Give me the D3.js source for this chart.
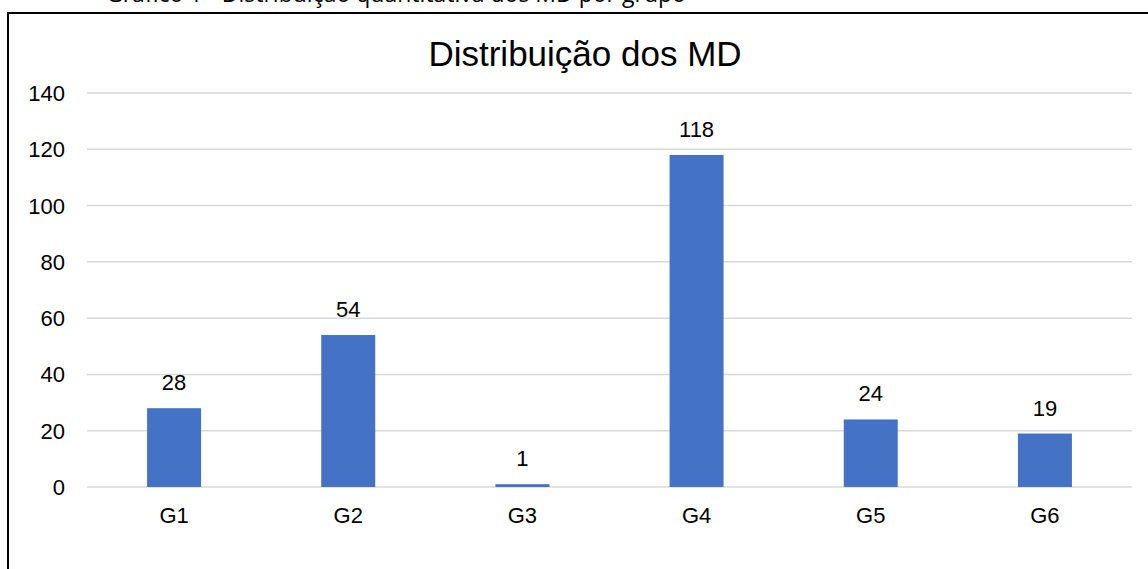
<!DOCTYPE html>
<html>
<head>
<meta charset="utf-8">
<script src="https://cdn.jsdelivr.net/npm/d3@7"></script>
<style>
  body { margin: 0; background: #fff; }
  text { font-family: "Liberation Sans", Arial, sans-serif; }
</style>
</head>
<body>
<script>
var width = 1148, height = 569;

var grupos = ["G1", "G2", "G3", "G4", "G5", "G6"];
var valores = [28, 54, 1, 118, 24, 19];
var ticks = [0, 20, 40, 60, 80, 100, 120, 140];

var svg = d3.select("body").append("svg")
    .attr("width", width)
    .attr("height", height);

// caption cut off at the top of the page
svg.append("text")
    .attr("x", 106)
    .attr("y", 2)
    .style("font-family", "'Open Sans', sans-serif")
    .style("font-size", "23px")
    .attr("fill", "#000")
    .text("Gráfico 1 - Distribuição quantitativa dos MD por grupo");

// chart frame (left and top visible)
svg.append("path")
    .attr("d", "M8," + height + "V13H" + width)
    .attr("fill", "none")
    .attr("stroke", "#000")
    .attr("stroke-width", 2);

var x = d3.scaleBand()
    .domain(grupos)
    .range([87, 1132])
    .paddingInner(0.69)
    .paddingOuter(0.345);

var y = d3.scaleLinear()
    .domain([0, 140])
    .range([487, 93]);

// gridlines
svg.append("g")
    .selectAll("line")
    .data(ticks)
    .enter()
    .append("line")
    .attr("x1", 87)
    .attr("x2", 1132)
    .attr("y1", function(d) { return y(d); })
    .attr("y2", function(d) { return y(d); })
    .attr("stroke", "#d9d9d9")
    .attr("stroke-width", 1.5);

// y labels
svg.append("g")
    .selectAll("text")
    .data(ticks)
    .enter()
    .append("text")
    .attr("x", 65)
    .attr("y", function(d) { return y(d) + 8; })
    .attr("text-anchor", "end")
    .style("font-size", "22px")
    .attr("fill", "#000")
    .text(function(d) { return d; });

// bars
svg.append("g")
    .selectAll("rect")
    .data(valores)
    .enter()
    .append("rect")
    .attr("x", function(d, i) { return x(grupos[i]); })
    .attr("width", x.bandwidth())
    .attr("y", function(d) { return y(d); })
    .attr("height", function(d) { return y(0) - y(d); })
    .attr("fill", "#4472c4");

// value labels
svg.append("g")
    .selectAll("text")
    .data(valores)
    .enter()
    .append("text")
    .attr("x", function(d, i) { return x(grupos[i]) + x.bandwidth() / 2; })
    .attr("y", function(d) { return y(d) - 18; })
    .attr("text-anchor", "middle")
    .style("font-size", "22px")
    .attr("fill", "#000")
    .text(function(d) { return d; });

// category labels
svg.append("g")
    .selectAll("text")
    .data(grupos)
    .enter()
    .append("text")
    .attr("x", function(d) { return x(d) + x.bandwidth() / 2; })
    .attr("y", 523)
    .attr("text-anchor", "middle")
    .style("font-size", "22px")
    .attr("fill", "#000")
    .text(function(d) { return d; });

// title
svg.append("text")
    .attr("x", 585)
    .attr("y", 66)
    .attr("text-anchor", "middle")
    .style("font-size", "35px")
    .attr("fill", "#000")
    .text("Distribuição dos MD");
</script>
</body>
</html>
